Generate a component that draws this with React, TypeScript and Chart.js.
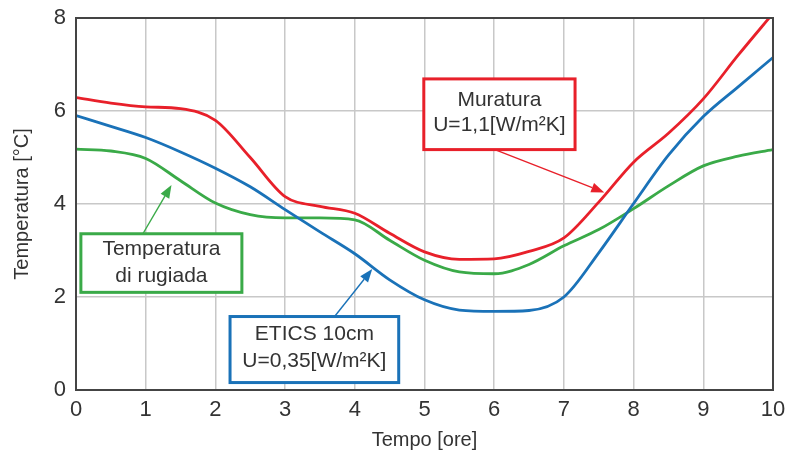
import React, { useEffect, useRef } from "react";
import { Chart, registerables } from "chart.js";

Chart.register(...registerables);

// ---- data ----
const hours = [0, 0.5, 1, 1.5, 2, 2.5, 3, 3.5, 4, 4.5, 5, 5.5, 6, 6.5, 7, 7.5, 8, 8.5, 9, 9.5, 10];
const muratura = [6.29, 6.17, 6.09, 6.05, 5.8, 5.0, 4.16, 3.95, 3.8, 3.37, 2.97, 2.81, 2.82, 2.98, 3.27, 4.04, 4.9, 5.52, 6.26, 7.2, 8.1];
const etics = [5.9, 5.67, 5.43, 5.12, 4.77, 4.37, 3.88, 3.4, 2.93, 2.37, 1.94, 1.72, 1.69, 1.71, 2.0, 2.95, 4.01, 5.05, 5.88, 6.52, 7.15];
const rugiada = [5.18, 5.14, 4.98, 4.5, 4.02, 3.77, 3.7, 3.7, 3.66, 3.22, 2.79, 2.54, 2.5, 2.7, 3.1, 3.45, 3.9, 4.39, 4.82, 5.03, 5.17];

const xTitle = "Tempo [ore]";
const yTitle = "Temperatura [°C]";
const xMin = 0, xMax = 10, xStep = 1;
const yMin = 0, yMax = 8, yStep = 2;

const RED = "#e8202a";
const BLUE = "#1a72b8";
const GREEN = "#3aaa48";

// annotation callouts, in data units (hours, °C)
const callouts = [
  { lines: ["Muratura", "U=1,1[W/m²K]"], color: RED, box: [4.99, 6.69, 7.16, 5.17], textT: [6.24, 5.7], arrow: [6.01, 5.17, 7.58, 4.25] },
  { lines: ["Temperatura", "di rugiada"], color: GREEN, box: [0.07, 3.36, 2.38, 2.1], textT: [3.03, 2.44], arrow: [0.96, 3.36, 1.37, 4.41] },
  { lines: ["ETICS 10cm", "U=0,35[W/m²K]"], color: BLUE, box: [2.21, 1.58, 4.63, 0.16], textT: [1.19, 0.61], arrow: [3.71, 1.58, 4.25, 2.6] },
];

const FONT = '"Liberation Sans", Arial, sans-serif';

const overlay = {
  id: "overlay",
  afterDraw(chart: any) {
    const { ctx, chartArea, scales } = chart;
    const xs = scales.x, ys = scales.y;
    ctx.save();
    // frame
    ctx.strokeStyle = "#444";
    ctx.lineWidth = 2;
    ctx.strokeRect(chartArea.left, chartArea.top, chartArea.right - chartArea.left, chartArea.bottom - chartArea.top);
    for (const c of callouts) {
      const x1 = xs.getPixelForValue(c.box[0]);
      const y1 = ys.getPixelForValue(c.box[1]);
      const x2 = xs.getPixelForValue(c.box[2]);
      const y2 = ys.getPixelForValue(c.box[3]);
      // arrow
      const ax = xs.getPixelForValue(c.arrow[0]);
      const ay = ys.getPixelForValue(c.arrow[1]);
      const tx = xs.getPixelForValue(c.arrow[2]);
      const ty = ys.getPixelForValue(c.arrow[3]);
      const ang = Math.atan2(ty - ay, tx - ax);
      const hl = 13, hw = 5;
      const bx = tx - hl * Math.cos(ang), by = ty - hl * Math.sin(ang);
      ctx.strokeStyle = c.color;
      ctx.fillStyle = c.color;
      ctx.lineWidth = 1.4;
      ctx.beginPath();
      ctx.moveTo(ax, ay);
      ctx.lineTo(bx, by);
      ctx.stroke();
      ctx.beginPath();
      ctx.moveTo(tx, ty);
      ctx.lineTo(bx + hw * Math.sin(ang), by - hw * Math.cos(ang));
      ctx.lineTo(bx - hw * Math.sin(ang), by + hw * Math.cos(ang));
      ctx.closePath();
      ctx.fill();
      // box
      ctx.fillStyle = "#fff";
      ctx.fillRect(x1, y1, x2 - x1, y2 - y1);
      ctx.lineWidth = 3;
      ctx.strokeStyle = c.color;
      ctx.strokeRect(x1, y1, x2 - x1, y2 - y1);
      // text
      ctx.fillStyle = "#333";
      ctx.font = `21px ${FONT}`;
      ctx.textAlign = "center";
      ctx.textBaseline = "middle";
      c.lines.forEach((l, i) => {
        ctx.fillText(l, (x1 + x2) / 2, ys.getPixelForValue(c.textT[i]));
      });
    }
    ctx.restore();
  },
};

export default function App() {
  const ref = useRef<HTMLCanvasElement>(null);
  useEffect(() => {
    if (!ref.current) return;
    const mk = (arr: number[]) => hours.map((h, i) => ({ x: h, y: arr[i] }));
    const chart = new Chart(ref.current, {
      type: "line",
      data: {
        datasets: [
          { label: "Muratura", data: mk(muratura), borderColor: RED, borderWidth: 2.8, pointRadius: 0, cubicInterpolationMode: "monotone", fill: false },
          { label: "ETICS 10cm", data: mk(etics), borderColor: BLUE, borderWidth: 2.8, pointRadius: 0, cubicInterpolationMode: "monotone", fill: false },
          { label: "Temperatura di rugiada", data: mk(rugiada), borderColor: GREEN, borderWidth: 2.8, pointRadius: 0, cubicInterpolationMode: "monotone", fill: false },
        ],
      },
      options: {
        animation: false,
        responsive: false,
        layout: { padding: { top: 18, right: 14, left: 0, bottom: 0 } },
        plugins: { legend: { display: false }, tooltip: { enabled: false } },
        scales: {
          x: {
            type: "linear",
            min: xMin,
            max: xMax,
            afterFit: (s: any) => { s.height = 65; s.paddingLeft = 0; s.paddingRight = 0; },
            ticks: { stepSize: xStep, color: "#333", font: { size: 22, family: FONT }, padding: 7 },
            grid: { color: "#c8c8c8", lineWidth: 1.5, drawTicks: false },
            border: { display: false },
            title: { display: true, text: xTitle, color: "#333", font: { size: 20, family: FONT }, padding: { top: 0, bottom: 3 } },
          },
          y: {
            type: "linear",
            min: yMin,
            max: yMax,
            afterFit: (s: any) => { s.width = 76; s.paddingTop = 0; s.paddingBottom = 0; },
            ticks: { stepSize: yStep, color: "#333", font: { size: 22, family: FONT }, padding: 10 },
            grid: { color: "#c8c8c8", lineWidth: 1.5, drawTicks: false },
            border: { display: false },
            title: { display: true, text: yTitle, color: "#333", font: { size: 20, family: FONT }, padding: { top: 10, bottom: 0 } },
          },
        },
      } as any,
      plugins: [overlay],
    });
    return () => chart.destroy();
  }, []);
  return (
    <div style={{ position: "fixed", left: 0, top: 0, width: 787, height: 455, background: "#fff" }}>
      <canvas ref={ref} width={787} height={455} style={{ display: "block" }} />
    </div>
  );
}
